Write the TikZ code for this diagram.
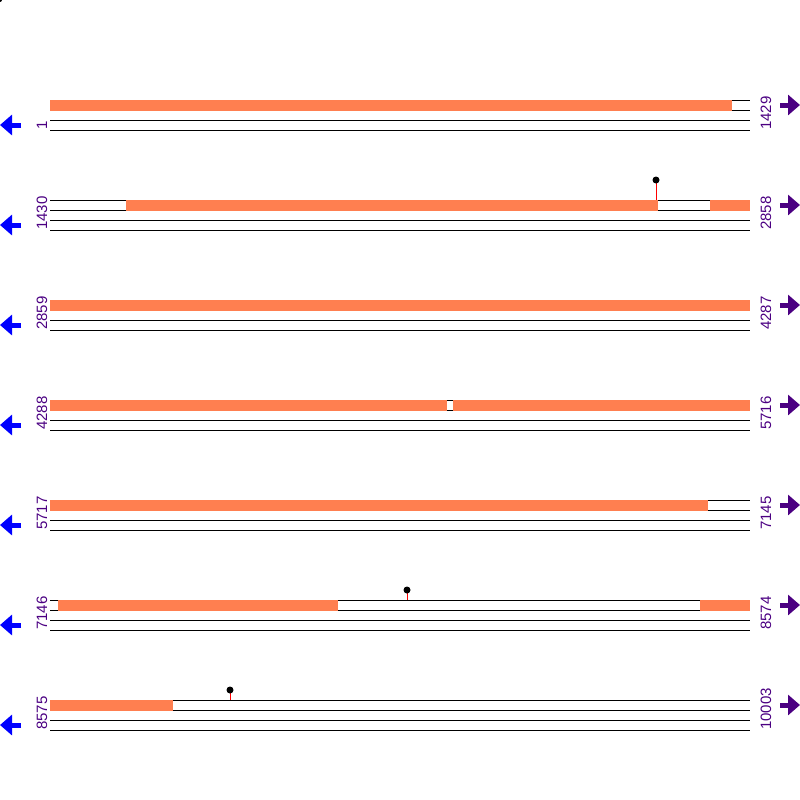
\documentclass[tikz,border=0pt]{standalone}
\usepackage{fontspec}
\setmainfont{Liberation Sans}
\usetikzlibrary{arrows.meta}
\definecolor{featorange}{RGB}{255,127,80}
\definecolor{strandpurple}{RGB}{75,0,130}
\definecolor{strandblue}{RGB}{0,0,255}
\tikzset{
    track/.style={line width=1pt},
    feat/.style={fill=featorange},
    poslabel/.style={rotate=90, anchor=base west, inner sep=0pt, text=strandpurple,
        font=\fontsize{15}{15}\selectfont},
    fwd/.style={draw=strandpurple, line width=5pt, -{Triangle[width=20pt,length=12pt]}},
    rev/.style={draw=strandblue, line width=5pt, -{Triangle[width=20pt,length=12pt]}},
    site/.style={red, line width=1pt}
}

\begin{document}
\begin{tikzpicture}[x=1pt, y=-1pt]
    \useasboundingbox (0, 0) rectangle (800, 800);
    \fill (0, 0) circle (2);
    % tracks, positions and strands
    \foreach \r/\lo/\hi in {1/1/1429, 2/1430/2858, 3/2859/4287, 4/4288/5716,
                            5/5717/7145, 6/7146/8574, 7/8575/10003} {
        \begin{scope}[shift={(0, 100*\r)}]
            \foreach \l in {0, 10, 20, 30}
                \draw[track] (50, \l) -- (750, \l);
            \node[poslabel] (lo\r) at (47, 30) {\lo};
            \node[poslabel] (hi\r) at (771, 30) {\hi};
            \draw[fwd] (780, 5) -- (800, 5);
            \draw[rev] (21, 25) -- (0, 25);
        \end{scope}
    }
    % features
    \fill[feat] (50, 99.5) rectangle (732, 110.5);
    \fill[feat] (126, 199.5) rectangle (658, 210.5);
    \fill[feat] (710, 199.5) rectangle (750, 210.5);
    \fill[feat] (50, 299.5) rectangle (750, 310.5);
    \fill[feat] (50, 399.5) rectangle (447, 410.5);
    \fill[feat] (453, 399.5) rectangle (750, 410.5);
    \fill[feat] (50, 499.5) rectangle (708, 510.5);
    \fill[feat] (58, 599.5) rectangle (338, 610.5);
    \fill[feat] (700, 599.5) rectangle (750, 610.5);
    \fill[feat] (50, 699.5) rectangle (173, 710.5);
    % sites
    \draw[site] (656, 200) -- (656, 180);
    \fill (656, 180) circle (3.5);
    \draw[site] (407, 600) -- (407, 590);
    \fill (407, 590) circle (3.5);
    \draw[site] (230, 700) -- (230, 690);
    \fill (230, 690) circle (3.5);
\end{tikzpicture}
\end{document}
